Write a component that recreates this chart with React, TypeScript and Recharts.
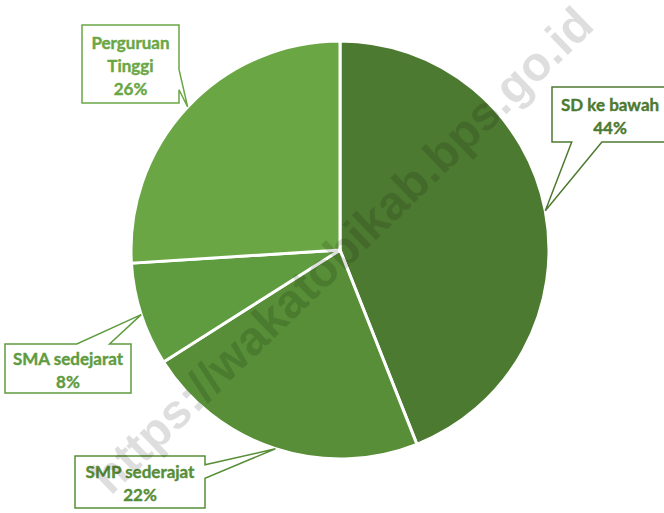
import { Pie, PieChart, Cell } from "recharts";

const categories = ["SD ke bawah", "SMP sederajat", "SMA sedejarat", "Perguruan Tinggi"];
const shares = [44, 22, 8, 26];
const sliceColors = ["#4d7a31", "#578e37", "#5f9c3f", "#6aa744"];
const watermark = "https://wakatobikab.bps.go.id";

const data = categories.map((name, i) => ({ name, value: shares[i] }));

// callout boxes, one per category
const labelBoxes = [
  { x: 552, y: 87, w: 116, h: 55, wrap: false },
  { x: 75, y: 456, w: 130, h: 52, wrap: false },
  { x: 5, y: 344, w: 126, h: 49, wrap: false },
  { x: 82, y: 25, w: 97, h: 78, wrap: true },
];

const RAD = Math.PI / 180;

function calloutPath(x: number, y: number, w: number, h: number, tx: number, ty: number) {
  const cx = x + w / 2;
  const cy = y + h / 2;
  const nx = (tx - cx) / (w / 2);
  const ny = (ty - cy) / (h / 2);
  if (Math.abs(ny) >= Math.abs(nx)) {
    const a = tx < cx ? x + 0.17 * w : x + w - 0.43 * w;
    const b = tx < cx ? x + 0.43 * w : x + w - 0.17 * w;
    if (ny > 0) {
      return `M${x},${y} H${x + w} V${y + h} H${b} L${tx},${ty} L${a},${y + h} H${x} Z`;
    }
    return `M${x},${y} H${a} L${tx},${ty} L${b},${y} H${x + w} V${y + h} H${x} Z`;
  }
  const a = ty < cy ? y + 0.17 * h : y + h - 0.43 * h;
  const b = ty < cy ? y + 0.43 * h : y + h - 0.17 * h;
  if (nx > 0) {
    return `M${x},${y} H${x + w} V${a} L${tx},${ty} L${x + w},${b} V${y + h} H${x} Z`;
  }
  return `M${x},${y} H${x + w} V${y + h} H${x} V${b} L${tx},${ty} L${x},${a} Z`;
}

function CalloutLabel(props: any) {
  const { cx, cy, midAngle, outerRadius, index, name, value } = props;
  const box = labelBoxes[index];
  const color = sliceColors[index];
  const tx = cx + outerRadius * Math.cos(-midAngle * RAD);
  const ty = cy + outerRadius * Math.sin(-midAngle * RAD);
  const lines = box.wrap ? [...String(name).split(" "), `${value}%`] : [name, `${value}%`];
  const lh = 23;
  const midY = box.y + box.h / 2 + 1;
  const startY = midY - ((lines.length - 1) * lh) / 2;
  return (
    <g>
      <path
        d={calloutPath(box.x, box.y, box.w, box.h, tx, ty)}
        fill="#ffffff"
        stroke={color}
        strokeWidth={1.5}
      />
      {lines.map((line, i) => (
        <text
          key={i}
          x={box.x + box.w / 2}
          y={startY + i * lh}
          textAnchor="middle"
          dominantBaseline="central"
          fill={color}
          stroke={color}
          strokeWidth={0.4}
          fontFamily="Lato, 'Open Sans', sans-serif"
          fontWeight={700}
          fontSize={17}
        >
          {line}
        </text>
      ))}
    </g>
  );
}

export default function App() {
  return (
    <div style={{ position: "absolute", left: 0, top: 0, width: 664, height: 513, background: "#fff" }}>
      <PieChart width={664} height={513} margin={{ top: 0, right: 0, bottom: 0, left: 0 }}>
        <Pie
          data={data}
          dataKey="value"
          nameKey="name"
          cx={340}
          cy={250}
          outerRadius={209}
          startAngle={90}
          endAngle={-270}
          stroke="#ffffff"
          strokeWidth={3}
          label={CalloutLabel}
          labelLine={false}
          isAnimationActive={false}
        >
          {data.map((d, i) => (
            <Cell key={d.name} fill={sliceColors[i]} />
          ))}
        </Pie>
      </PieChart>
      <svg
        width={664}
        height={513}
        style={{ position: "absolute", left: 0, top: 0, pointerEvents: "none" }}
      >
        <text
          x={342}
          y={250}
          textAnchor="middle"
          dominantBaseline="central"
          transform="rotate(-44 342 250)"
          fill="#000000"
          fillOpacity={0.13}
          fontFamily="'Liberation Sans', Arial, sans-serif"
          fontWeight={700}
          fontSize={48}
        >
          {watermark}
        </text>
      </svg>
    </div>
  );
}
